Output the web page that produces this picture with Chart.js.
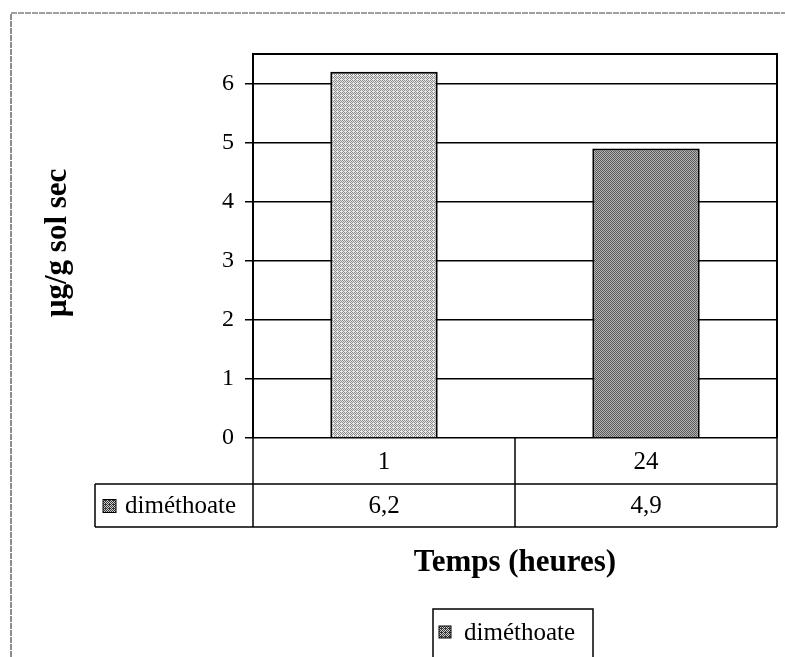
<!DOCTYPE html>
<html>
<head>
<meta charset="utf-8">
<script src="https://cdn.jsdelivr.net/npm/chart.js@4"></script>
<style>
html,body{margin:0;padding:0;background:#fff;}
canvas{display:block;}
</style>
</head>
<body>
<canvas id="c" width="785" height="657"></canvas>
<script>
// ---- data ----
const categories = ['1', '24'];
const seriesLabel = 'diméthoate';
const seriesValues = [6.2, 4.9];
const yTicks = [0, 1, 2, 3, 4, 5, 6];
const xTitle = 'Temps (heures)';
const yTitle = 'µg/g sol sec';

// deterministic halftone pattern (Bayer 4x4)
function halftone(light, dark, level) {
  const bayer = [0,8,2,10,12,4,14,6,3,11,1,9,15,7,13,5];
  const c = document.createElement('canvas');
  c.width = 4; c.height = 4;
  const x = c.getContext('2d');
  for (let i = 0; i < 16; i++) {
    x.fillStyle = (bayer[i] < level) ? dark : light;
    x.fillRect(i % 4, Math.floor(i / 4), 1, 1);
  }
  return x.createPattern(c, 'repeat');
}
const ctx = document.getElementById('c').getContext('2d');
const fills = [halftone('#e8e8e8', '#8a8a8a', 7), halftone('#b4b4b4', '#5a5a5a', 8)];
const legendFill = halftone('#cfcfcf', '#333333', 9);

const serif = '"Liberation Serif", "DejaVu Serif", serif';
const L = {tableLeft: 95, row1Bottom: 484, tableBottom: 527};

const decor = {
  id: 'decor',
  beforeDraw(chart) {
    const c = chart.ctx;
    c.save();
    c.fillStyle = '#fff';
    c.fillRect(0, 0, chart.width, chart.height);
    c.restore();
  },
  afterDraw(chart) {
    const c = chart.ctx;
    const a = chart.chartArea;
    const xs = chart.scales.x;
    c.save();
    // outer frame
    c.strokeStyle = '#444';
    c.lineWidth = 1.2;
    c.setLineDash([6, 1]);
    c.beginPath();
    c.moveTo(11, chart.height);
    c.lineTo(11, 13);
    c.lineTo(chart.width, 13);
    c.stroke();
    c.setLineDash([]);
    // plot border top/right
    c.strokeStyle = '#000';
    c.lineWidth = 2;
    c.beginPath();
    c.moveTo(a.left, a.top);
    c.lineTo(a.right, a.top);
    c.lineTo(a.right, a.bottom);
    c.stroke();
    // data table
    c.lineWidth = 1.5;
    c.beginPath();
    c.moveTo(L.tableLeft, L.row1Bottom); c.lineTo(a.right, L.row1Bottom);
    c.moveTo(L.tableLeft, L.tableBottom); c.lineTo(a.right, L.tableBottom);
    c.moveTo(L.tableLeft, L.row1Bottom); c.lineTo(L.tableLeft, L.tableBottom);
    c.moveTo(a.left, a.bottom); c.lineTo(a.left, L.tableBottom);
    c.moveTo(a.right, a.bottom); c.lineTo(a.right, L.tableBottom);
    for (let i = 1; i < categories.length; i++) {
      const xm = (xs.getPixelForValue(i - 1) + xs.getPixelForValue(i)) / 2;
      c.moveTo(xm, a.bottom); c.lineTo(xm, L.tableBottom);
    }
    c.stroke();
    c.fillStyle = '#000';
    c.font = '25px ' + serif;
    c.textAlign = 'center';
    c.textBaseline = 'middle';
    const r1 = (a.bottom + L.row1Bottom) / 2 + 1;
    const r2 = (L.row1Bottom + L.tableBottom) / 2 + 1;
    categories.forEach((cat, i) => {
      const x = xs.getPixelForValue(i);
      c.fillText(cat, x, r1);
      c.fillText(String(seriesValues[i]).replace('.', ','), x, r2);
    });
    // row label with key
    c.fillStyle = legendFill;
    c.fillRect(103, r2 - 7, 13, 13);
    c.strokeStyle = '#000'; c.lineWidth = 1;
    c.strokeRect(103, r2 - 7, 13, 13);
    c.fillStyle = '#000';
    c.textAlign = 'left';
    c.fillText(seriesLabel, 125, r2);
    // axis titles
    c.font = 'bold 31px ' + serif;
    c.textAlign = 'center';
    c.fillText(xTitle, (a.left + a.right) / 2, 563);
    c.save();
    c.translate(58, 243);
    c.rotate(-Math.PI / 2);
    c.fillText(yTitle, 0, 0);
    c.restore();
    // legend
    c.strokeStyle = '#000'; c.lineWidth = 1.5;
    c.strokeRect(433, 609, 160, 60);
    c.fillStyle = legendFill;
    c.fillRect(439, 626, 12, 12);
    c.strokeStyle = '#000'; c.lineWidth = 1;
    c.strokeRect(439, 626, 12, 12);
    c.fillStyle = '#000';
    c.font = '25px ' + serif;
    c.textAlign = 'left';
    c.fillText(seriesLabel, 464, 633);
    c.restore();
  }
};

new Chart(ctx, {
  type: 'bar',
  data: {
    labels: categories,
    datasets: [{
      label: seriesLabel,
      data: seriesValues,
      backgroundColor: fills,
      borderColor: '#000',
      borderWidth: 2,
      borderSkipped: 'bottom',
      barPercentage: 0.41,
      categoryPercentage: 1.0
    }]
  },
  plugins: [decor],
  options: {
    responsive: false,
    animation: false,
    layout: {padding: {top: 54, right: 8, left: 0, bottom: 0}},
    plugins: {legend: {display: false}, tooltip: {enabled: false}, title: {display: false}},
    scales: {
      x: {
        type: 'category',
        ticks: {display: false},
        grid: {display: false},
        border: {display: false},
        afterFit(s) { s.height = 219; }
      },
      y: {
        min: 0,
        max: 6.5,
        afterBuildTicks(s) { s.ticks = yTicks.map(v => ({value: v})); },
        ticks: {
          color: '#000',
          font: {family: serif, size: 24},
          padding: 11
        },
        grid: {color: '#000', lineWidth: 1.5, tickLength: 8, drawTicks: true},
        border: {display: true, color: '#000', width: 2},
        afterFit(s) { s.width = 253; }
      }
    }
  }
});
</script>
</body>
</html>
